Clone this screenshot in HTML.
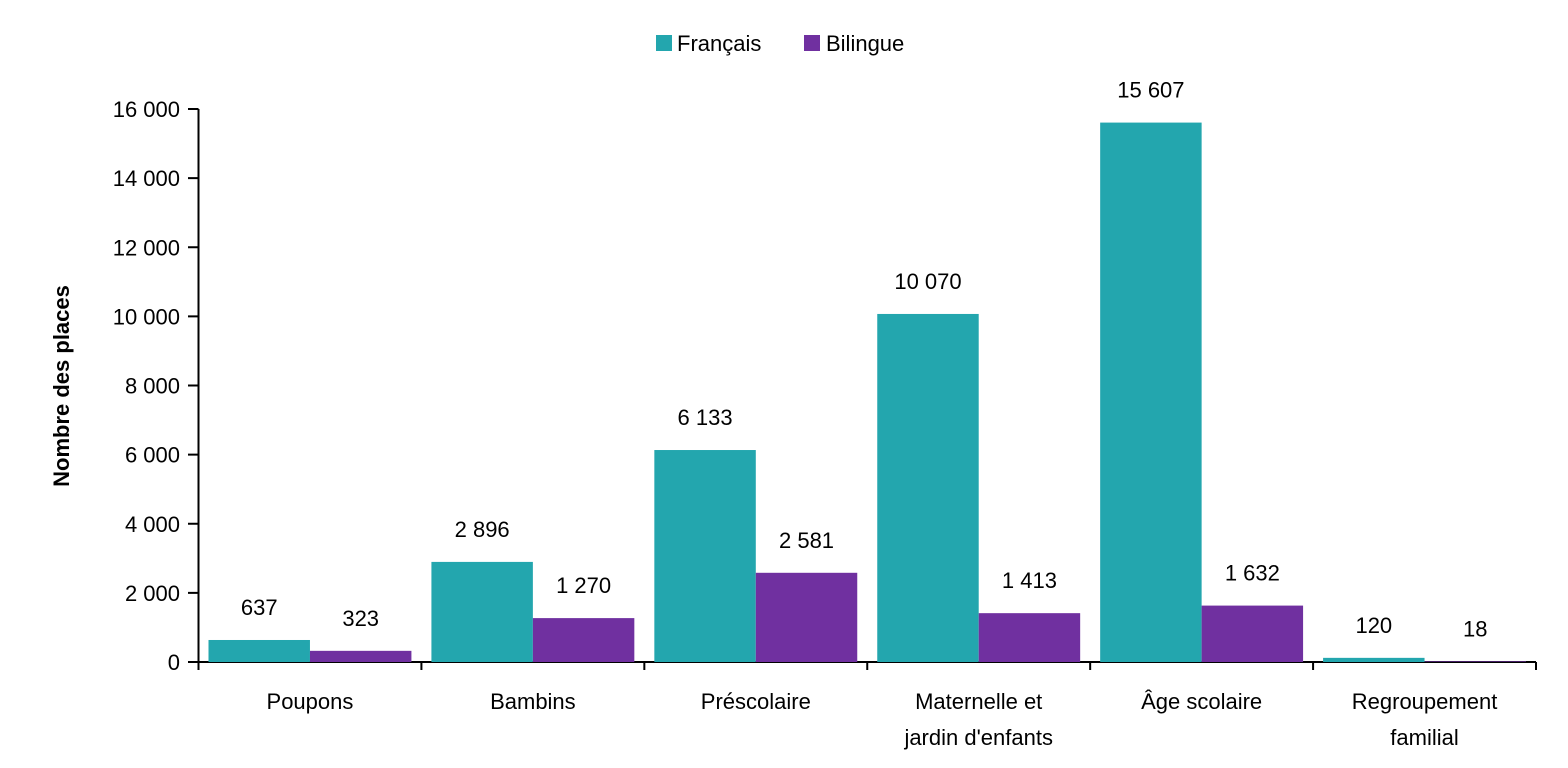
<!DOCTYPE html>
<html><head><meta charset="utf-8"><style>
body{margin:0;background:#fff;}
svg{display:block;font-family:"Liberation Sans",sans-serif;}
</style></head><body>
<svg id="chart" width="1568" height="768">
<g id="legend">
<g><rect x="656" y="35" width="16" height="16" fill="#23A6AE"/><text x="677" y="51" font-size="22" fill="#000">Français</text></g>
<g><rect x="804" y="35" width="16" height="16" fill="#7030A0"/><text x="826" y="51" font-size="22" fill="#000">Bilingue</text></g>
</g>
<text transform="translate(69,386) rotate(-90)" text-anchor="middle" font-size="22" font-weight="bold">Nombre des places</text>
<g id="plot"></g>
</svg>
<script>
const categories=[["Poupons"],["Bambins"],["Préscolaire"],["Maternelle et","jardin d'enfants"],["Âge scolaire"],["Regroupement","familial"]];
const francais=[637,2896,6133,10070,15607,120];
const bilingue=[323,1270,2581,1413,1632,18];
const yTicks=[0,2000,4000,6000,8000,10000,12000,14000,16000];
const x0=198.5,x1=1536,y0=662,yTop=109,yMax=16000;
const ns="http://www.w3.org/2000/svg";
const g=document.getElementById('plot');
const bw=(x1-x0)/categories.length;
const y=v=>y0-(v/yMax)*(y0-yTop);
const fmt=v=>v.toString().replace(/\B(?=(\d{3})+(?!\d))/g,' ');
function mk(t,a,txt){const e=document.createElementNS(ns,t);for(const k in a)e.setAttribute(k,a[k]);if(txt!==undefined)e.textContent=txt;g.appendChild(e);return e;}
yTicks.forEach(v=>{
 const l=mk('line',{x1:188,x2:x0,y1:y(v),y2:y(v),stroke:'#000','stroke-width':2});
 
 
 const t=mk('text',{x:180,y:y(v)+8,'text-anchor':'end','font-size':22},fmt(v));
 
 
});
const ax=mk('line',{x1:x0,x2:x0,y1:yTop,y2:y0,stroke:'#000','stroke-width':2});


const xa=mk('line',{x1:x0-1,x2:x1,y1:y0,y2:y0,stroke:'#000','stroke-width':2});


const barW=(bw-20)/2;
categories.forEach((c,i)=>{
 const cx=x0+i*bw;
 const tk=mk('line',{x1:cx+bw,x2:cx+bw,y1:y0,y2:y0+8,stroke:'#000','stroke-width':2});
 
 
 if(i===0){const t0=mk('line',{x1:cx,x2:cx,y1:y0,y2:y0+8,stroke:'#000','stroke-width':2});}
 [[francais,'#23A6AE','francais'],[bilingue,'#7030A0','bilingue']].forEach(([arr,col,nm],j)=>{
  const v=arr[i],bx=cx+10+j*barW;
  const r=mk('rect',{x:bx,y:y(v),width:barW,height:y0-y(v),fill:col});
  
  
  const t=mk('text',{x:bx+barW/2,y:y(v)-25,'text-anchor':'middle','font-size':22},fmt(v));
  
  
 });
 c.forEach((line,k)=>{
  const t=mk('text',{x:cx+bw/2,y:709+k*36,'text-anchor':'middle','font-size':22},line);
  
  
 });
});
</script>
</body></html>
